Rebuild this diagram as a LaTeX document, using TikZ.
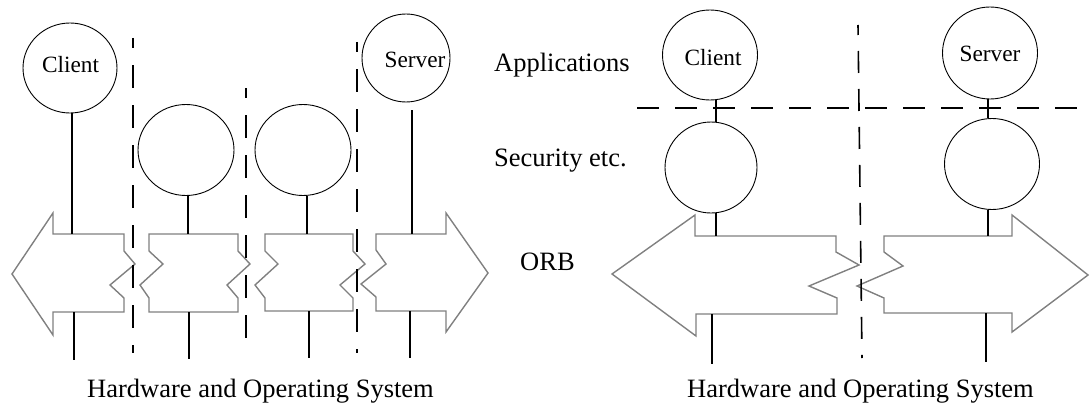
\documentclass[tikz,border=0pt]{standalone}
\usepackage{fontspec}
\setmainfont{Liberation Serif}
\usetikzlibrary{shapes.geometric}
\definecolor{orbgray}{RGB}{128,128,128}
\begin{document}
\begin{tikzpicture}[x=1pt,y=-1pt,
  circ/.style={draw, ellipse, inner sep=0pt, line width=0.9pt},
  conn/.style={line width=1.8pt},
  sepL/.style={line width=1.6pt, dash pattern=on 23pt off 17pt, dash phase=13pt},
  sepR/.style={line width=1.6pt, dash pattern=on 22pt off 16pt},
  orb/.style={draw=orbgray, line width=1.4pt, line join=miter},
  lbl/.style={font=\fontsize{26.5}{30}\selectfont, inner sep=0pt, anchor=base west},
  clbl/.style={font=\fontsize{23.3}{26}\selectfont, inner sep=0pt, anchor=base}]
\useasboundingbox (0,0) rectangle (1091,404);

% ---------------- left diagram ----------------
\node[circ, minimum width=94pt, minimum height=90pt] (Lcl) at (70,68) {};
\node[clbl] (Lclt) at (70.5,73) {Client};
\node[circ, minimum width=88pt, minimum height=88pt] (Lsv) at (406,58) {};
\node[clbl] (Lsvt) at (415,67) {Server};
\node[circ, minimum width=96pt, minimum height=91pt] (Lm1) at (186,150) {};
\node[circ, minimum width=96pt, minimum height=91pt] (Lm2) at (303,150) {};

% ORB pieces
\draw[orb] (12,274) -- (53,213) -- (53,234) -- (124,234) -- (124,251) -- (135,264)
  -- (110,285) -- (124,298) -- (124,312) -- (53,312) -- (53,335) -- cycle;
\draw[orb] (149,234) -- (238,234) -- (238,251) -- (250,264) -- (227,285) -- (238,298)
  -- (238,312) -- (149,312) -- (149,298) -- (140,285) -- (163,264) -- (149,251) -- cycle;
\draw[orb] (265,234) -- (353,234) -- (353,251) -- (365,264) -- (340,285) -- (353,298)
  -- (353,311) -- (265,311) -- (265,298) -- (255,285) -- (278,264) -- (265,251) -- cycle;
\draw[orb] (376,234) -- (446,234) -- (446,213) -- (488,273) -- (446,332) -- (446,311)
  -- (376,311) -- (376,297) -- (361,284) -- (386,264) -- (376,250) -- cycle;

\coordinate (L1t) at (72,234);  \coordinate (L1b) at (74,312);  \coordinate (L1e) at (74,360);
\coordinate (M1t) at (188,234); \coordinate (M1b) at (189,312); \coordinate (M1e) at (189,359);
\coordinate (M2t) at (307,234); \coordinate (M2b) at (309,311); \coordinate (M2e) at (309,358);
\coordinate (S1s) at (412,110); \coordinate (S1t) at (412,234);
\coordinate (S1b) at (410,311); \coordinate (S1e) at (410,358);

\draw[conn] (L1t |- Lcl.south) -- (L1t);
\draw[conn] (L1b) -- (L1e);
\draw[conn] (M1t |- Lm1.south) -- (M1t);
\draw[conn] (M1b) -- (M1e);
\draw[conn] (M2t |- Lm2.south) -- (M2t);
\draw[conn] (M2b) -- (M2e);
\draw[conn] (S1s) -- (S1t);
\draw[conn] (S1b) -- (S1e);

\coordinate (D1a) at (133,38);  \coordinate (D1b) at (133,353);
\coordinate (D2a) at (246,88);  \coordinate (D2b) at (246,353);
\coordinate (D3a) at (357,42);  \coordinate (D3b) at (357,353);
\draw[sepL] (D1a) -- (D1b);
\draw[sepL] (D2a) -- (D2b);
\draw[sepL] (D3a) -- (D3b);

\node[lbl] (hwL) at (87,397) {Hardware and Operating System};

% ---------------- right diagram ----------------
\node[lbl] (app) at (494,71) {Applications};
\node[lbl] (sec) at (494,166) {Security etc.};
\node[lbl] (orbt) at (520,270) {ORB};

\node[circ, minimum width=95pt, minimum height=90pt] (Rcl) at (710,55) {};
\node[clbl] (Rclt) at (713,65) {Client};
\node[circ, minimum width=92pt, minimum height=91pt] (Rsc) at (711,167.5) {};
\node[circ, minimum width=95pt, minimum height=92pt] (Rsv) at (990,53) {};
\node[clbl] (Rsvt) at (990,62) {Server};
\node[circ, minimum width=95pt, minimum height=91pt] (Rss) at (992,164) {};

\draw[orb] (612,274) -- (695,215) -- (695,236) -- (836,236) -- (836,252) -- (859,265)
  -- (809,286) -- (837,298) -- (837,314) -- (696,314) -- (696,336) -- cycle;
\draw[orb] (884,236) -- (1012,236) -- (1012,215) -- (1088,275) -- (1012,332) -- (1012,313)
  -- (884,313) -- (884,298) -- (857,286) -- (903,266) -- (884,252) -- cycle;

\coordinate (RCt) at (716,236); \coordinate (RCb) at (712,314); \coordinate (RCe) at (712,364);
\coordinate (RSt) at (988,236); \coordinate (RSb) at (986,313); \coordinate (RSe) at (986,362);

\draw[conn] (RCt |- Rcl.south) -- (RCt |- Rsc.north);
\draw[conn] (RCt |- Rsc.south) -- (RCt);
\draw[conn] (RCb) -- (RCe);
\draw[conn] (RSt |- Rsv.south) -- (RSt |- Rss.north);
\draw[conn] (RSt |- Rss.south) -- (RSt);
\draw[conn] (RSb) -- (RSe);

\coordinate (H1) at (637,108); \coordinate (H2) at (1091,108);
\draw[sepR] (H1) -- (H2);
\coordinate (V1) at (858,25); \coordinate (V2) at (862,358);
\draw[sepR, dash phase=12pt] (V1) -- (V2);

\node[lbl] (hwR) at (687,397) {Hardware and Operating System};
\end{tikzpicture}
\end{document}
